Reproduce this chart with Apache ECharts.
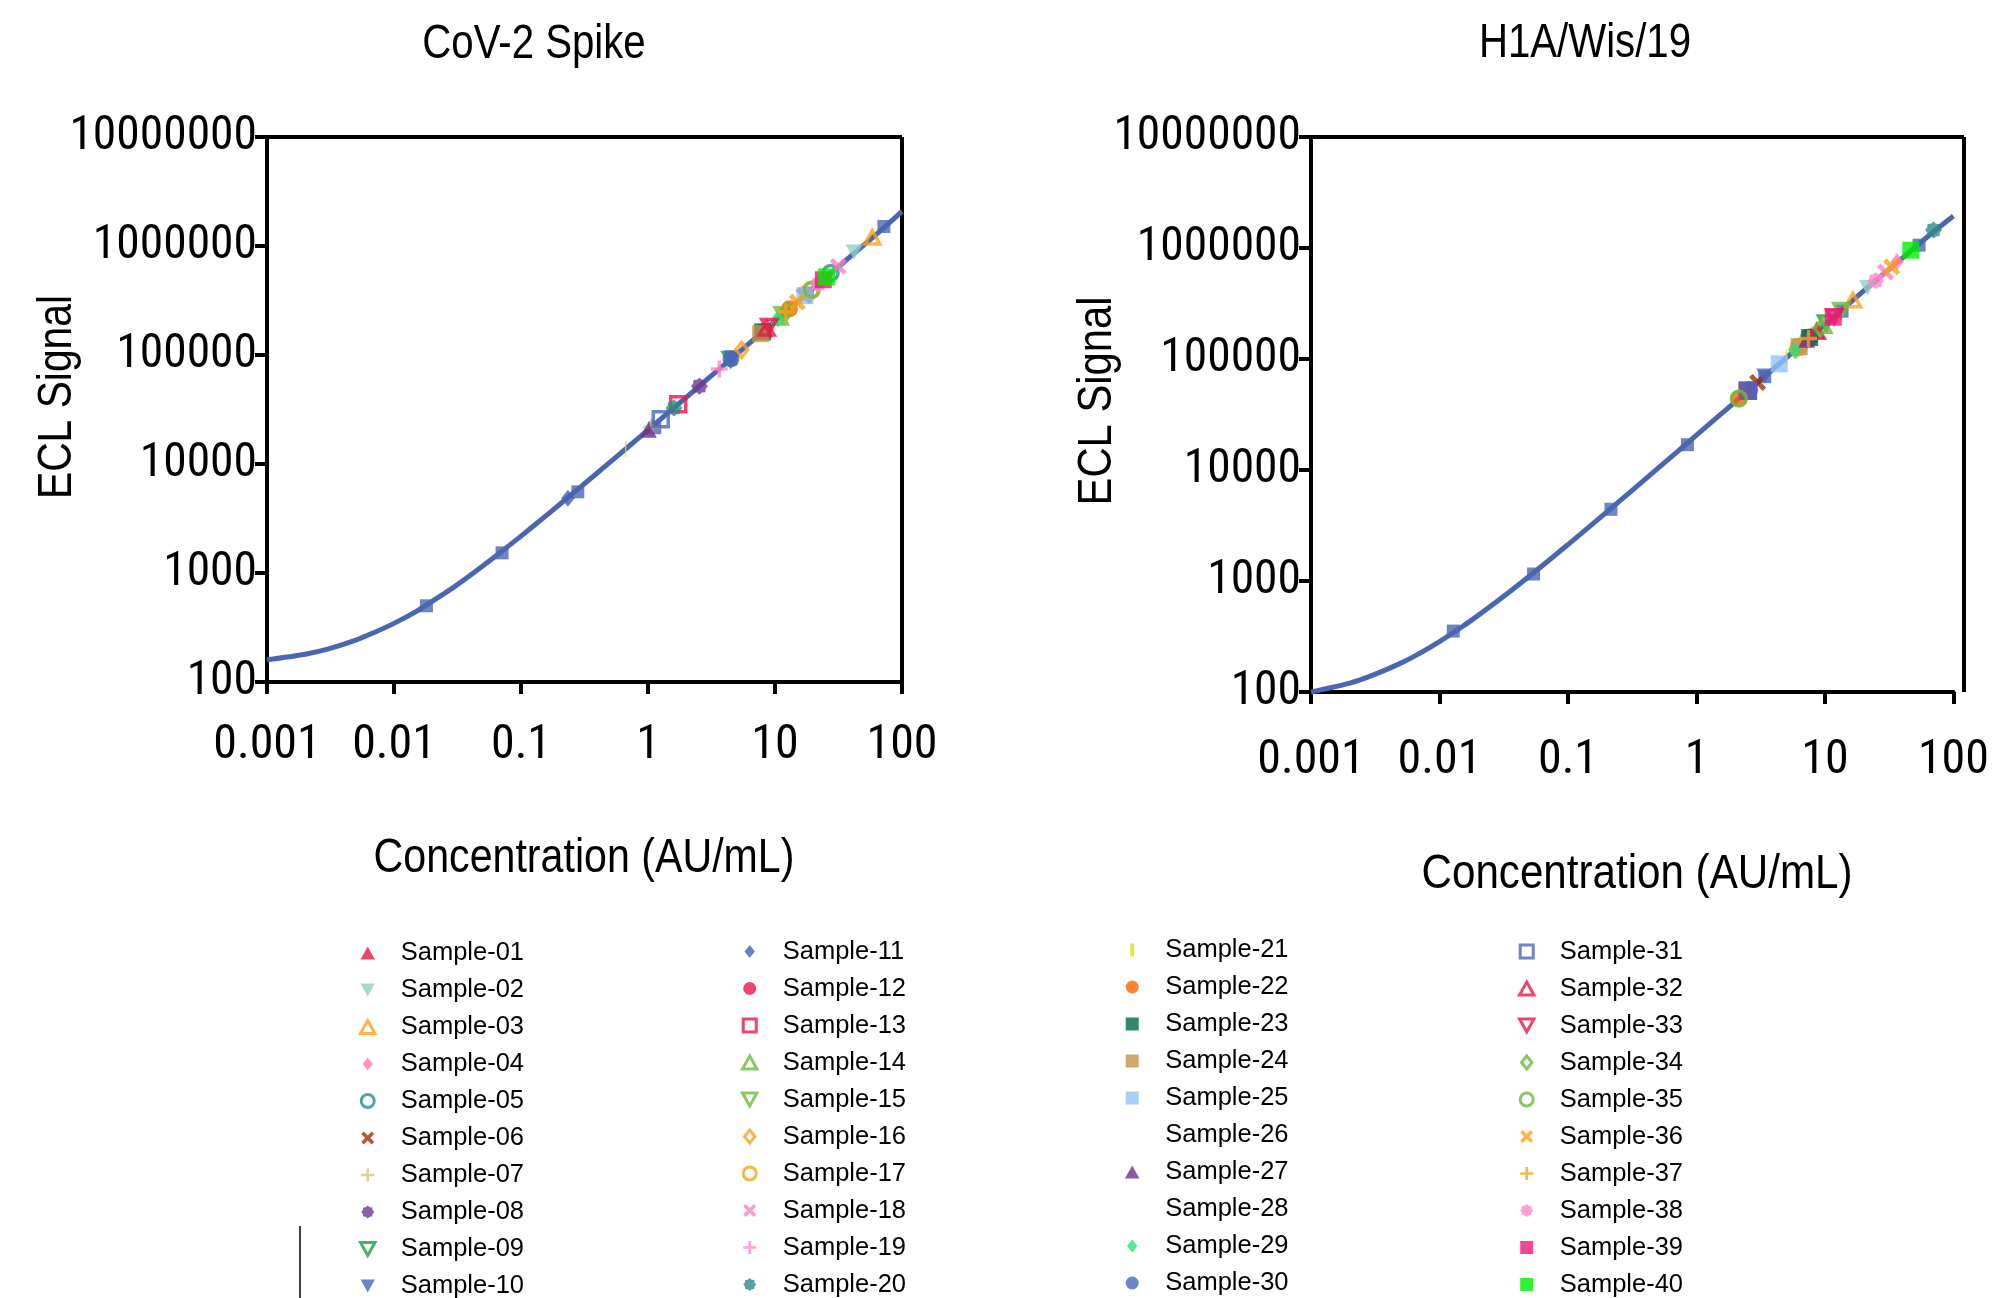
<!DOCTYPE html>
<html><head><meta charset="utf-8">
<script src="https://cdn.jsdelivr.net/npm/echarts@6/dist/echarts.min.js"></script>
<style>html,body{margin:0;padding:0;background:#fff}#c{width:1992px;height:1298px}</style>
</head><body><div id="c"></div>
<script>
// ---------------- DATA ----------------
const panelTitles = ['CoV-2 Spike', 'H1A/Wis/19'];
const xAxisTitle = 'Concentration (AU/mL)';
const yAxisTitle = 'ECL Signal';
const xTickLabels = ['0.001', '0.01', '0.1', '1', '10', '100'];
const yTickLabels = ['100', '1000', '10000', '100000', '1000000', '10000000'];

const sampleNames = ['Sample-01','Sample-02','Sample-03','Sample-04','Sample-05','Sample-06','Sample-07','Sample-08','Sample-09','Sample-10',
  'Sample-11','Sample-12','Sample-13','Sample-14','Sample-15','Sample-16','Sample-17','Sample-18','Sample-19','Sample-20',
  'Sample-21','Sample-22','Sample-23','Sample-24','Sample-25','Sample-26','Sample-27','Sample-28','Sample-29','Sample-30',
  'Sample-31','Sample-32','Sample-33','Sample-34','Sample-35','Sample-36','Sample-37','Sample-38','Sample-39','Sample-40'];

// fitted standard curves
const curveConc = [0.001,0.002,0.003,0.005,0.007,0.01,0.015,0.02,0.03,0.05,0.07,0.1,0.15,0.2,0.3,0.5,0.7,1,1.5,2,3,5,7,10,15,20,30,50,70,100];
const leftCurveSignal = [160,180,200,242,285,345,445,550,750,1160,1570,2180,3200,4230,6270,10350,14400,20500,30700,40900,61300,102000,143000,204000,306000,408000,612000,1020000,1430000,2080000];
const rightCurveSignal = [100,120,141,182,223,285,387,490,695,1105,1515,2130,3155,4180,6230,10330,14430,20580,30830,41080,61580,102600,143600,205000,307500,410000,612000,1010000,1400000,1940000];

// calibrator points (blue squares)
const leftStdConc = [0.018, 0.071, 0.28, 1.13, 4.5, 18, 72];
const leftStdSignal = [500, 1530, 5550, 21500, 92000, 370000, 1510000];
const rightStdConc = [0.0128, 0.054, 0.216, 0.85, 3.4, 13.6, 54];
const rightStdSignal = [354, 1156, 4425, 16900, 69300, 270000, 1060000];

// samples (one value per sample and panel)
const leftSampleConc = [8.3,42,58.4,22,27.4,17,1.07,2.54,4.48,4.6, 0.234,8.0,1.73,10.9,11.5,5.47,19.0,31.5,3.64,1.6, 0.667,13,8.0,7.71,17.2,39,1.005,45,10.5,4.5, 1.26,8.61,9.0,12.5,19.5,15.0,12.2,21.9,24,25.5];
const leftSampleSignal = [170000,880000,1200000,455000,565000,350000,21700,51800,91500,94000, 4840,163000,35300,222000,235000,111500,388000,650000,74300,32600, 13800,265000,163000,157000,350000,800000,20500,920000,214000,92000, 25700,176000,184000,255000,398000,306000,249000,447000,490000,520000];
const rightSampleConc = [8.62,21.4,16.5,36.4,7.5,2.99,6.5,7.8,10.2,3.4, 2.5,2.51,2.51,9.7,13.4,6.0,6.24,29.6,8.0,70, 5.02,2.14,7.6,6.3,4.41,1.3,7.2,1.5,5.82,2.6, 2.51,8.62,11.8,9.2,2.14,33,7.45,24.8,11.6,46.6];
const rightSampleSignal = [178000,440000,340000,750000,155000,61500,134000,160000,212000,70000, 51500,51700,51700,200000,275000,123000,128000,607000,164000,1450000, 103000,44000,156000,129000,90500,26700,148000,30800,119000,53000, 51700,177000,242000,189000,44000,677000,153000,508000,238000,955000];

// ---------------- STYLE ----------------
const TICK_FONT = "'Roboto Condensed', 'Liberation Sans', sans-serif";
const TITLE_FONT = "'Liberation Sans', Arial, sans-serif";
const LEGEND_FONT = "'Liberation Sans', Arial, sans-serif";
const LINE_BLUE = '#4a66b0';
const SYM = {
  triUp: 'path://M5,0 L10,9 L0,9 Z',
  triDown: 'path://M0,0 L10,0 L5,9 Z',
  diamond: 'path://M5,0 L9,5 L5,10 L1,5 Z',
  circle: 'path://M5,0 A5,5 0 1 1 5,10 A5,5 0 1 1 5,0 Z',
  square: 'path://M0,0 L10,0 L10,10 L0,10 Z',
  cross: 'path://M0,2 L2,0 L5,3 L8,0 L10,2 L7,5 L10,8 L8,10 L5,7 L2,10 L0,8 L3,5 Z',
  plus: 'path://M4,0 L6,0 L6,4 L10,4 L10,6 L6,6 L6,10 L4,10 L4,6 L0,6 L0,4 L4,4 Z',
  star: 'path://M10,5 L8.7,6.53 L8.54,8.54 L6.53,8.7 L5,10 L3.47,8.7 L1.46,8.54 L1.3,6.53 L0,5 L1.3,3.47 L1.46,1.46 L3.47,1.3 L5,0 L6.53,1.3 L8.54,1.46 L8.7,3.47 Z',
  tick: 'path://M0,0 L3,0 L3,10 L0,10 Z'
};
// [shape, color, hollow]
const sampleStyles = [
  ['triUp','#e8174a',0],['triDown','#8fd1c0',0],['triUp','#f7a21b',1],['diamond','#ff7fb5',0],['circle','#2b8c8c',1],
  ['cross','#a42c0c',0],['plus','#d9c27e',0],['star','#6b3a8e',0],['triDown','#12a048',1],['triDown','#4a66b8',0],
  ['diamond','#4262b5',0],['circle','#e8174a',0],['square','#e8174a',1],['triUp','#6cbb3c',1],['triDown','#6cbb3c',1],
  ['diamond','#f7a21b',1],['circle','#f7a21b',1],['cross','#ff80c0',0],['plus','#ff88c8',0],['star','#2e8a8a',0],
  ['tick','#e4e000',0],['circle','#ff6300',0],['square','#006b3f',0],['square','#c4914e',0],['square','#92c2f7',0],
  ['square','rgba(0,0,0,0)',0],['triUp','#6b2f8f',0],['square','rgba(0,0,0,0)',0],['diamond','#2ee07c',0],['circle','#4a66b8',0],
  ['square','#4a66b8',1],['triUp','#e8174a',1],['triDown','#e8174a',1],['diamond','#6cbb3c',1],['circle','#6cbb3c',1],
  ['cross','#f7a21b',0],['plus','#f7a21b',0],['star','#ff88c8',0],['square','#f0197a',0],['square','#00ee00',0]
];

const grids = [
  {left: 267, top: 137, width: 635, height: 545},
  {left: 1311, top: 137, width: 653, height: 555}
];
const xLabelMargin = [40, 45];

function logIdx(v, base) { return Math.round(Math.log10(v)) - base; }

const xAxes = grids.map((g, i) => ({
  type: 'log', logBase: 10, gridIndex: i, min: 0.001, max: 100, splitNumber: 5,
  axisLine: {show: true, lineStyle: {color: '#000', width: 4}},
  axisTick: {show: true, length: 12, lineStyle: {color: '#000', width: 4}},
  splitLine: {show: false}, minorTick: {show: false},
  axisLabel: {color: '#000', fontFamily: TICK_FONT, fontSize: 48, margin: xLabelMargin[i],
    formatter: v => xTickLabels[logIdx(v, -3)]}
}));
const yAxes = grids.map((g, i) => ({
  type: 'log', logBase: 10, gridIndex: i, min: 100, max: 10000000, splitNumber: 5,
  axisLine: {show: true, lineStyle: {color: '#000', width: 4}},
  axisTick: {show: true, length: 12, lineStyle: {color: '#000', width: 4}},
  splitLine: {show: false}, minorTick: {show: false},
  axisLabel: {color: '#000', fontFamily: TICK_FONT, fontSize: 47.5, margin: 10,
    formatter: v => yTickLabels[logIdx(v, 2)]}
}));

const series = [];
const curves = [leftCurveSignal, rightCurveSignal];
const stdC = [leftStdConc, rightStdConc], stdS = [leftStdSignal, rightStdSignal];
const smpC = [leftSampleConc, rightSampleConc], smpS = [leftSampleSignal, rightSampleSignal];
for (let p = 0; p < 2; p++) {
  series.push({
    type: 'line', name: 'fit' + p, xAxisIndex: p, yAxisIndex: p, smooth: 0.3, showSymbol: false, silent: true,
    lineStyle: {color: LINE_BLUE, width: 5}, z: 2,
    data: curveConc.map((c, k) => [c, curves[p][k]])
  });
  series.push({
    type: 'scatter', name: 'std' + p, xAxisIndex: p, yAxisIndex: p, symbol: SYM.square, symbolSize: 13, silent: true,
    itemStyle: {color: LINE_BLUE}, z: 3,
    data: stdC[p].map((c, k) => [c, stdS[p][k]])
  });
}
sampleNames.forEach((name, i) => {
  const st = sampleStyles[i];
  const hollow = st[2] === 1;
  const itemStyle = hollow
    ? {color: 'rgba(255,255,255,0)', borderColor: st[1], borderWidth: 3.5}
    : {color: st[1], borderWidth: 0};
  for (let p = 0; p < 2; p++) {
    series.push({
      type: 'scatter', name, xAxisIndex: p, yAxisIndex: p, symbol: SYM[st[0]], symbolKeepAspect: true,
      symbolSize: st[0] === 'tick' ? [5, 16] : (hollow ? 15 : 17), itemStyle, z: 4 + i / 100, silent: true,
      data: [[smpC[p][i], smpS[p][i]]]
    });
  }
});

const legendCols = [
  {left: 359, top: 940}, {left: 741, top: 938.5}, {left: 1125, top: 937}, {left: 1518, top: 938.5}
];
const legends = legendCols.map((pos, c) => ({
  orient: 'vertical', left: pos.left, top: pos.top, height: 420, padding: 0, itemGap: 11,
  itemWidth: 56, itemHeight: 13, symbolKeepAspect: true, selectedMode: false,
  itemStyle: {borderWidth: 'auto'},
  textStyle: {color: '#000', fontFamily: LEGEND_FONT, fontSize: 25.5, lineHeight: 26},
  data: sampleNames.slice(c * 10, c * 10 + 10).map((n, k) =>
    sampleStyles[c * 10 + k][2] === 1 ? {name: n, itemStyle: {borderWidth: 3}} : n)
}));

const T = (text, x, y, size, opts) => Object.assign({
  type: 'text', x, y, silent: true,
  style: {text, fill: '#000', font: 'normal ' + size + 'px ' + TITLE_FONT, align: 'center', verticalAlign: 'middle'}
}, opts || {});

const chart = echarts.init(document.getElementById('c'), null, {renderer: 'canvas'});
chart.setOption({
  animation: false,
  backgroundColor: '#fff',
  grid: grids.map(g => Object.assign({show: false, containLabel: false}, g)),
  xAxis: xAxes,
  yAxis: yAxes,
  legend: legends,
  series,
  graphic: [
    T(panelTitles[0], 534, 44, 49, {scaleX: 0.82}), T(panelTitles[1], 1585, 43, 49, {scaleX: 0.82}),
    T(xAxisTitle, 584, 858, 49, {scaleX: 0.84}), T(xAxisTitle, 1637, 874, 49, {scaleX: 0.86}),
    T(yAxisTitle, 58, 397, 48, {rotation: Math.PI / 2, scaleX: 0.85}),
    T(yAxisTitle, 1098, 401, 48, {rotation: Math.PI / 2, scaleX: 0.87}),
    {type: 'line', silent: true, shape: {x1: 267, y1: 137, x2: 902, y2: 137}, style: {stroke: '#000', lineWidth: 4}},
    {type: 'line', silent: true, shape: {x1: 902, y1: 137, x2: 902, y2: 682}, style: {stroke: '#000', lineWidth: 4}},
    {type: 'line', silent: true, shape: {x1: 1311, y1: 137, x2: 1964, y2: 137}, style: {stroke: '#000', lineWidth: 4}},
    {type: 'line', silent: true, shape: {x1: 1964, y1: 137, x2: 1964, y2: 692}, style: {stroke: '#000', lineWidth: 4}},
    {type: 'line', silent: true, shape: {x1: 300, y1: 1226, x2: 300, y2: 1298}, style: {stroke: '#000', lineWidth: 1.5}}
  ]
});
</script></body></html>
